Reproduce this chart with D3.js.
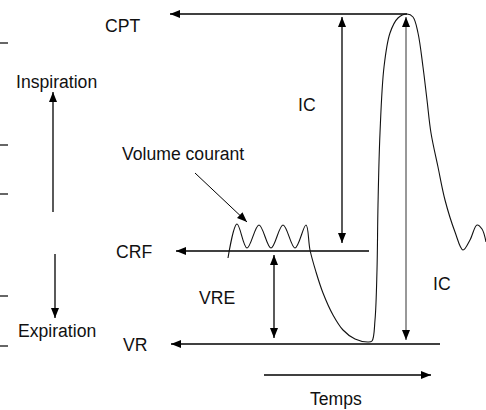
<!DOCTYPE html>
<html>
<head>
<meta charset="utf-8">
<script src="https://cdn.jsdelivr.net/npm/d3@7"></script>
<style>
  body { margin: 0; background: #fff; }
  text { font-family: Arial, "Liberation Sans", sans-serif; font-size: 17.6px; fill: #111; }
</style>
</head>
<body>
<script>
// spirogram.js

var width = 486,
    height = 410;

// Volume levels (arbitrary units above VR) and the breathing trace (time, volume).
var levelNames = ["CPT", "CRF", "VR"];
var levelValues = [66, 18.6, 0];

var traceTime = [45.6, 47.4, 49.4, 51.8, 54.2, 56.6, 59, 61.2, 62, 63.2, 64.6, 66.6, 68.6, 71, 73.6, 74.4,
                 75, 75.4, 75.6, 76, 76.8, 78, 79.6, 81.4, 82.6, 83.6, 84.6, 85.4, 86.2, 87.6, 89, 91,
                 92.6, 94, 95.4, 96.4, 97.2];
var traceVolume = [17.2, 24, 19.2, 23.8, 19.2, 23.8, 19.2, 23.8, 18.8, 14.4, 10.2, 5.8, 2.8, 1, 0.4, 0.6,
                   4.8, 14.8, 27.8, 42.2, 55.4, 62.2, 65.2, 66, 65.4, 62.2, 55.4, 48.8, 42.2, 35.4, 28.8, 22.4,
                   18.8, 20.8, 23.8, 23, 20.4];

// Short marks on the left border.
var sideTicks = [60.2, 39.8, 30, 9.6, -0.4];

var labelTexts = ["CPT", "Inspiration", "Volume courant", "IC", "CRF", "VRE", "IC", "Expiration", "VR", "Temps"];

var trace = traceTime.map(function(t, i) { return { t: t, v: traceVolume[i] }; });
var level = {};
levelNames.forEach(function(n, i) { level[n] = levelValues[i]; });

var xScale = d3.scaleLinear().domain([0, 97.2]).range([0, width]);
var yScale = d3.scaleLinear().domain([0, 66]).range([344, 14]);

var viz = d3.select("body").append("svg")
    .attr("width", width)
    .attr("height", height);

// Arrow head marker.
viz.append("defs").append("marker")
    .attr("id", "head")
    .attr("viewBox", "0 0 10 8")
    .attr("refX", 10).attr("refY", 4)
    .attr("markerWidth", 10).attr("markerHeight", 8)
    .attr("markerUnits", "userSpaceOnUse")
    .attr("orient", "auto-start-reverse")
    .append("path").attr("d", "M0,0L10,4L0,8Z").attr("fill", "#000");

function arrow(t1, v1, t2, v2, both, color, w) {
    var l = viz.append("line")
        .attr("x1", xScale(t1)).attr("y1", yScale(v1))
        .attr("x2", xScale(t2)).attr("y2", yScale(v2))
        .attr("stroke", color || "#000")
        .attr("stroke-width", w || 1.3)
        .attr("marker-end", "url(#head)");
    if (both) l.attr("marker-start", "url(#head)");
}

// Left border ticks.
viz.selectAll("line.tick").data(sideTicks).enter().append("line")
    .attr("class", "tick")
    .attr("x1", 0).attr("x2", 8)
    .attr("y1", function(d) { return yScale(d); })
    .attr("y2", function(d) { return yScale(d); })
    .attr("stroke", "#000").attr("stroke-width", 1.2);

// Level lines, ending in arrows pointing to the labels.
arrow(81.4, level.CPT, 34, level.CPT);
arrow(73.8, level.CRF, 35.2, level.CRF);
arrow(88, level.VR, 34.2, level.VR);

// Capacities and volumes.
arrow(68.4, level.CRF + 1.6, 68.4, level.CPT - 0.6, true);       // IC
arrow(81.2, level.VR + 0.8, 81.2, level.CPT - 0.6, true, "#333", 1); // IC
arrow(54.8, level.VR + 1.2, 54.8, level.CRF - 0.8, true);         // VRE

// Inspiration / expiration, time and tidal volume pointer.
arrow(10.6, 26.4, 10.6, 50.4);
arrow(11, 18, 11, 5.2);
arrow(52.8, -6.2, 86.2, -6.2);
arrow(39, 34.2, 49.4, 24.4, false, "#000", 1);

// Breathing trace.
var line = d3.line()
    .x(function(d) { return xScale(d.t); })
    .y(function(d) { return yScale(d.v); })
    .curve(d3.curveCatmullRom.alpha(0.5));

viz.append("path").datum(trace)
    .attr("d", line)
    .attr("fill", "none")
    .attr("stroke", "#111")
    .attr("stroke-width", 1.1);

// Labels (left x, baseline y in pixels).
var spots = [[105, 32], [16, 88], [122, 160], [298, 111], [116, 258], [199, 304], [433, 290], [18, 337], [123, 351], [310, 405]];
viz.selectAll("text.lab").data(labelTexts).enter().append("text")
    .attr("class", "lab")
    .attr("x", function(d, i) { return spots[i][0]; })
    .attr("y", function(d, i) { return spots[i][1]; })
    .text(function(d) { return d; });

</script>
</body>
</html>
